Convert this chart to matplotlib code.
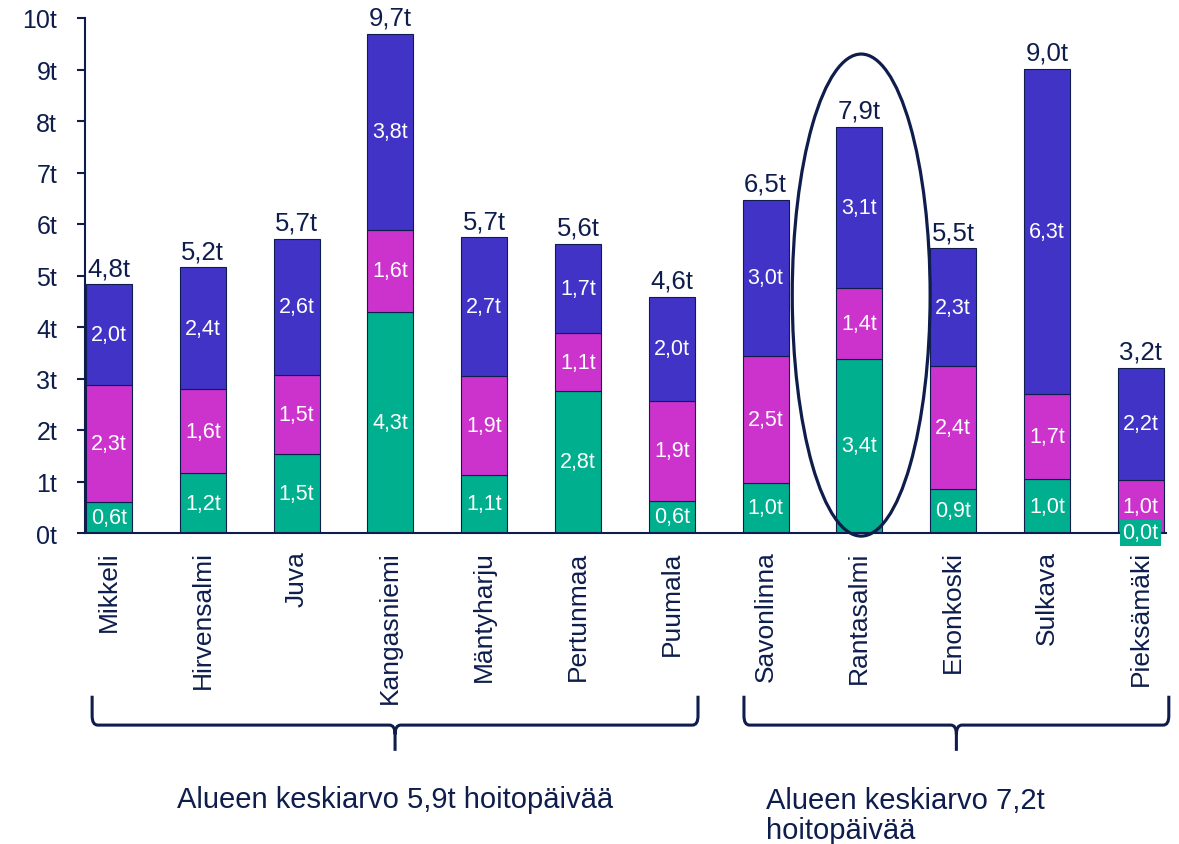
import matplotlib
matplotlib.use("Agg")
import matplotlib.pyplot as plt
import matplotlib.transforms as mtransforms
from matplotlib.patches import Ellipse, PathPatch
from matplotlib.path import Path
import numpy as np

plt.rcParams["font.family"] = ["Liberation Sans", "DejaVu Sans"]

# kunnat (kategoriat)
kunnat = ["Mikkeli", "Hirvensalmi", "Juva", "Kangasniemi", "Mäntyharju",
          "Pertunmaa", "Puumala", "Savonlinna", "Rantasalmi", "Enonkoski",
          "Sulkava", "Pieksämäki"]

# hoitopäivät (t) kolmessa osassa, luettu kuvasta
vihrea = [0.60, 1.16, 1.53, 4.30, 1.13, 2.76, 0.63, 0.98, 3.38, 0.86, 1.04, 0.00]
violetti = [2.27, 1.64, 1.54, 1.59, 1.91, 1.12, 1.94, 2.46, 1.37, 2.38, 1.66, 1.03]
sininen = [1.96, 2.36, 2.64, 3.80, 2.70, 1.73, 2.01, 3.03, 3.14, 2.29, 6.31, 2.18]

ryhma1_teksti = "Alueen keskiarvo 5,9t hoitopäivää"
ryhma2_teksti = "Alueen keskiarvo 7,2t\nhoitopäivää"

VIHREA = "#00AF8E"
VIOLETTI = "#CC33CC"
SININEN = "#4233C7"
TUMMA = "#0E1D4C"


def fmt(v):
    return ("%.1f" % v).replace(".", ",") + "t"


def sulku(ax, x0, x1, trans):
    # aaltosulku kategorioiden alle (y akselin osuuksina)
    ytop, ymid, ybot = -0.316, -0.373, -0.423
    xc = (x0 + x1) / 2
    r = 0.06
    ry = 0.018
    verts = [(x0, ytop), (x0, ymid + ry), (x0, ymid), (x0 + r, ymid),
             (xc - r, ymid), (xc, ymid), (xc, ymid - ry), (xc, ybot),
             (xc, ymid - ry), (xc, ymid), (xc + r, ymid),
             (x1 - r, ymid), (x1, ymid), (x1, ymid + ry), (x1, ytop)]
    codes = [Path.MOVETO, Path.LINETO, Path.CURVE3, Path.CURVE3,
             Path.LINETO, Path.CURVE3, Path.CURVE3, Path.LINETO,
             Path.MOVETO, Path.CURVE3, Path.CURVE3,
             Path.LINETO, Path.CURVE3, Path.CURVE3, Path.LINETO]
    p = PathPatch(Path(verts, codes), transform=trans, fill=False,
                  edgecolor=TUMMA, linewidth=2.2, clip_on=False)
    ax.add_patch(p)


fig = plt.figure(figsize=(11.79, 8.45), dpi=100)
ax = fig.add_axes([85 / 1179, 1 - 534 / 845, (1166 - 85) / 1179, (534 - 19) / 845])

x = np.arange(len(kunnat))
w = 0.49
v = np.array(vihrea)
m = np.array(violetti)
s = np.array(sininen)

b1 = ax.bar(x, v, w, color=VIHREA, edgecolor=TUMMA, linewidth=0.8)
b2 = ax.bar(x, m, w, bottom=v, color=VIOLETTI, edgecolor=TUMMA, linewidth=0.8)
b3 = ax.bar(x, s, w, bottom=v + m, color=SININEN, edgecolor=TUMMA, linewidth=0.8)

for i in range(len(kunnat)):
    ax.text(x[i], v[i] / 2, fmt(v[i]), ha="center", va="center",
            color="white", fontsize=15.5,
            bbox=dict(boxstyle="square,pad=0.12", facecolor=VIHREA, edgecolor="none"),
            clip_on=False, zorder=4)
    ax.text(x[i], v[i] + m[i] / 2, fmt(m[i]), ha="center", va="center",
            color="white", fontsize=15.5)
    ax.text(x[i], v[i] + m[i] + s[i] / 2, fmt(s[i]), ha="center", va="center",
            color="white", fontsize=15.5)
    tot = v[i] + m[i] + s[i]
    ax.annotate(fmt(tot), (x[i], tot), xytext=(0, 3), textcoords="offset points",
                ha="center", va="bottom", color=TUMMA, fontsize=18.5)

ax.set_xlim(-0.256, 11.27)
ax.set_ylim(0, 10)
ax.set_yticks(range(0, 11))
ax.set_yticklabels([f"{k}t" for k in range(0, 11)])
ax.set_xticks(x)
ax.set_xticklabels(kunnat, rotation=90, va="top")
ax.tick_params(axis="x", length=0, pad=12.5, labelsize=19, labelcolor=TUMMA)
ax.tick_params(axis="y", length=6, width=1.5, color=TUMMA, pad=14,
               labelsize=18, labelcolor=TUMMA)
for sp in ["top", "right"]:
    ax.spines[sp].set_visible(False)
for sp in ["left", "bottom"]:
    ax.spines[sp].set_color(TUMMA)
    ax.spines[sp].set_linewidth(1.5)

# ellipsi Rantasalmen ympärillä
ell = Ellipse((8.02, 4.62), 1.47, 9.36, fill=False, edgecolor=TUMMA,
              linewidth=2.3, clip_on=False, zorder=5)
ax.add_patch(ell)

trans = mtransforms.blended_transform_factory(ax.transData, ax.transAxes)
sulku(ax, -0.18, 6.28, trans)
sulku(ax, 6.77, 11.30, trans)

ax.text(3.05, -0.5165, ryhma1_teksti, transform=trans, ha="center", va="center",
        fontsize=21, color=TUMMA)
ax.text(7.0, -0.548, ryhma2_teksti, transform=trans, ha="left", va="center",
        fontsize=21, color=TUMMA, linespacing=1.1)

fig.savefig("out.png", dpi=100)
